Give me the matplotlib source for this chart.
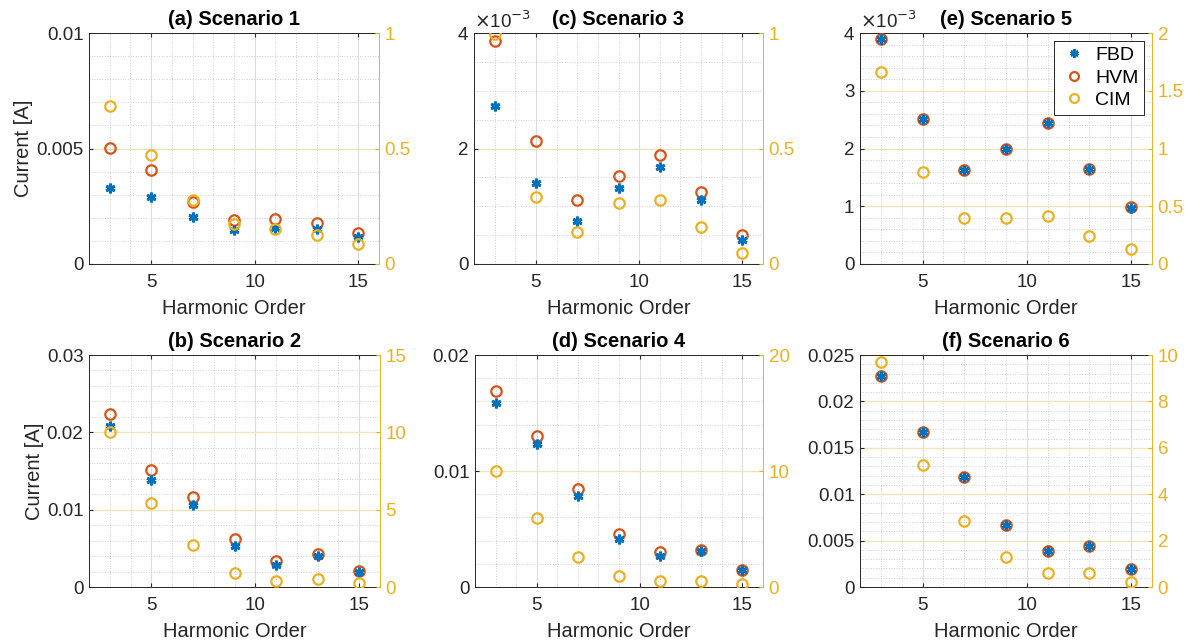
import matplotlib
matplotlib.use("Agg")
import matplotlib.pyplot as plt
from matplotlib.ticker import MultipleLocator, FuncFormatter, FixedLocator
import numpy as np

plt.rcParams['font.family'] = ['Liberation Sans', 'DejaVu Sans']

harmonics = [3, 5, 7, 9, 11, 13, 15]

# Scenario 1
fbd_1 = [0.00329, 0.00292, 0.00202, 0.00147, 0.00155, 0.00152, 0.00118]
hvm_1 = [0.00504, 0.00408, 0.00269, 0.00191, 0.00195, 0.00176, 0.00133]
cim_1 = [0.682, 0.474, 0.275, 0.173, 0.153, 0.126, 0.085]
# Scenario 2
fbd_2 = [0.0208, 0.0139, 0.0106, 0.0053, 0.0029, 0.0040, 0.0020]
hvm_2 = [0.0224, 0.0151, 0.0116, 0.0062, 0.0034, 0.0043, 0.00207]
cim_2 = [10.04, 5.43, 2.74, 0.905, 0.39, 0.54, 0.24]
# Scenario 3
fbd_3 = [0.00274, 0.00140, 0.00075, 0.00131, 0.00168, 0.00110, 0.00042]
hvm_3 = [0.00387, 0.00213, 0.00111, 0.00153, 0.00188, 0.00124, 0.00051]
cim_3 = [0.997, 0.290, 0.139, 0.262, 0.277, 0.159, 0.046]
# Scenario 4
fbd_4 = [0.0159, 0.0123, 0.00787, 0.00411, 0.00264, 0.00310, 0.00144]
hvm_4 = [0.0169, 0.0130, 0.00848, 0.00460, 0.00299, 0.00322, 0.00147]
cim_4 = [9.97, 5.95, 2.59, 0.92, 0.49, 0.52, 0.23]
# Scenario 5
fbd_5 = [0.00389, 0.00251, 0.00162, 0.00200, 0.00244, 0.00165, 0.00097]
hvm_5 = [0.00390, 0.00251, 0.00162, 0.00200, 0.00244, 0.00165, 0.00098]
cim_5 = [1.66, 0.80, 0.40, 0.40, 0.413, 0.24, 0.127]
# Scenario 6
fbd_6 = [0.02276, 0.0167, 0.0119, 0.00665, 0.00387, 0.00441, 0.00195]
hvm_6 = [0.02276, 0.0167, 0.0119, 0.00665, 0.00387, 0.00441, 0.00195]
cim_6 = [9.70, 5.26, 2.86, 1.29, 0.61, 0.61, 0.23]

titles = ['(a) Scenario 1', '(b) Scenario 2', '(c) Scenario 3',
          '(d) Scenario 4', '(e) Scenario 5', '(f) Scenario 6']
series = [(fbd_1, hvm_1, cim_1), (fbd_2, hvm_2, cim_2), (fbd_3, hvm_3, cim_3),
          (fbd_4, hvm_4, cim_4), (fbd_5, hvm_5, cim_5), (fbd_6, hvm_6, cim_6)]
left_lims = [0.01, 0.03, 0.004, 0.02, 0.004, 0.025]
left_major = [0.005, 0.01, 0.002, 0.01, 0.001, 0.005]
left_minor = [0.001, 0.002, 0.0005, 0.002, 0.0002, 0.001]
right_lims = [1, 15, 1, 20, 2, 10]
right_major = [0.5, 5, 0.5, 10, 0.5, 2]
scaled = [False, False, True, False, True, False]

C_FBD = '#0072BD'
C_HVM = '#D95319'
C_CIM = '#EDB120'
C_TXT = '#262626'

W, H = 1199, 644
fig = plt.figure(figsize=(W / 100, H / 100), dpi=100)

# pixel boxes: left, right, top, bottom
boxes = [(89, 379, 33, 264), (89, 380, 355, 587),
         (474, 763, 33, 264), (475, 763, 355, 587),
         (860, 1152, 33, 264), (860, 1152, 355, 587)]

FS_TICK = 13.5
FS_LAB = 14.5
for i in range(6):
    l, r, t, b = boxes[i]
    ax = fig.add_axes([l / W, 1 - b / H, (r - l) / W, (b - t) / H])
    ax2 = ax.twinx()
    fbd, hvm, cim = series[i]

    h1, = ax.plot(harmonics, fbd, linestyle='none', marker=(6, 2, 0),
                  color=C_FBD, markersize=7, markeredgewidth=2.0, zorder=4, label='FBD')
    h2, = ax.plot(harmonics, hvm, linestyle='none', marker='o', markerfacecolor='none',
                  markeredgecolor=C_HVM, markersize=7.5, markeredgewidth=1.6, zorder=3, label='HVM')
    h3, = ax2.plot(harmonics, cim, linestyle='none', marker='o', markerfacecolor='none',
                   markeredgecolor=C_CIM, markersize=7.5, markeredgewidth=1.6, label='CIM')

    ax.set_xlim(2, 16)
    ax.set_ylim(0, left_lims[i])
    ax2.set_ylim(0, right_lims[i])
    ax.xaxis.set_major_locator(FixedLocator([5, 10, 15]))
    ax.xaxis.set_minor_locator(MultipleLocator(1))
    ax.yaxis.set_major_locator(MultipleLocator(left_major[i]))
    ax.yaxis.set_minor_locator(MultipleLocator(left_minor[i]))
    ax2.yaxis.set_major_locator(MultipleLocator(right_major[i]))

    if scaled[i]:
        ax.yaxis.set_major_formatter(FuncFormatter(lambda v, p: f'{v * 1e3:g}'))
        ax.text(0.0, 1.005, r'$\times$10$^{-3}$', transform=ax.transAxes,
                ha='left', va='bottom', fontsize=FS_TICK, color=C_TXT)
    else:
        ax.yaxis.set_major_formatter(FuncFormatter(lambda v, p: f'{v:g}'))
    ax2.yaxis.set_major_formatter(FuncFormatter(lambda v, p: f'{v:g}'))

    # grids
    ax.grid(which='major', axis='x', color='#dcdcdc', linewidth=0.8)
    ax.grid(which='major', axis='y', color='#f2e2b8', linewidth=0.9)
    ax.grid(which='minor', axis='both', color='#d0d0d0', linestyle=':', linewidth=0.7)
    ax.set_axisbelow(True)

    ax.tick_params(which='both', direction='in', labelsize=FS_TICK, colors=C_TXT,
                   top=True, length=3)
    ax.tick_params(axis='x', pad=7)
    ax.tick_params(axis='y', pad=4)
    ax.tick_params(which='minor', length=0)
    ax2.tick_params(which='both', direction='in', labelsize=FS_TICK, colors=C_CIM,
                    length=3, pad=4)
    ax2.tick_params(which='minor', length=0)
    for s in ['left', 'bottom', 'top']:
        ax.spines[s].set_color(C_TXT)
        ax.spines[s].set_linewidth(0.7)
    ax.spines['right'].set_visible(False)
    for s in ['left', 'bottom', 'top']:
        ax2.spines[s].set_visible(False)
    ax2.spines['right'].set_color(C_CIM)
    ax2.spines['right'].set_linewidth(0.7)

    ax.set_title(titles[i], fontsize=FS_LAB, fontweight='bold', color='black', pad=6)
    ax.set_xlabel('Harmonic Order', fontsize=FS_LAB, color=C_TXT, labelpad=6)
    if i in (0, 1):
        ax.set_ylabel('Current [A]', fontsize=FS_LAB, color=C_TXT, labelpad=2)

    if i == 4:
        leg = ax2.legend([h1, h2, h3], ['FBD', 'HVM', 'CIM'], loc='upper right',
                         fontsize=FS_TICK + 0.5, frameon=True, fancybox=False,
                         edgecolor=C_TXT, framealpha=1, borderaxespad=0.4,
                         handletextpad=0.4, handlelength=1.4, labelspacing=0.25,
                         borderpad=0.3, markerscale=0.85)
        leg.get_frame().set_linewidth(0.7)

fig.savefig('out.png', dpi=100)
